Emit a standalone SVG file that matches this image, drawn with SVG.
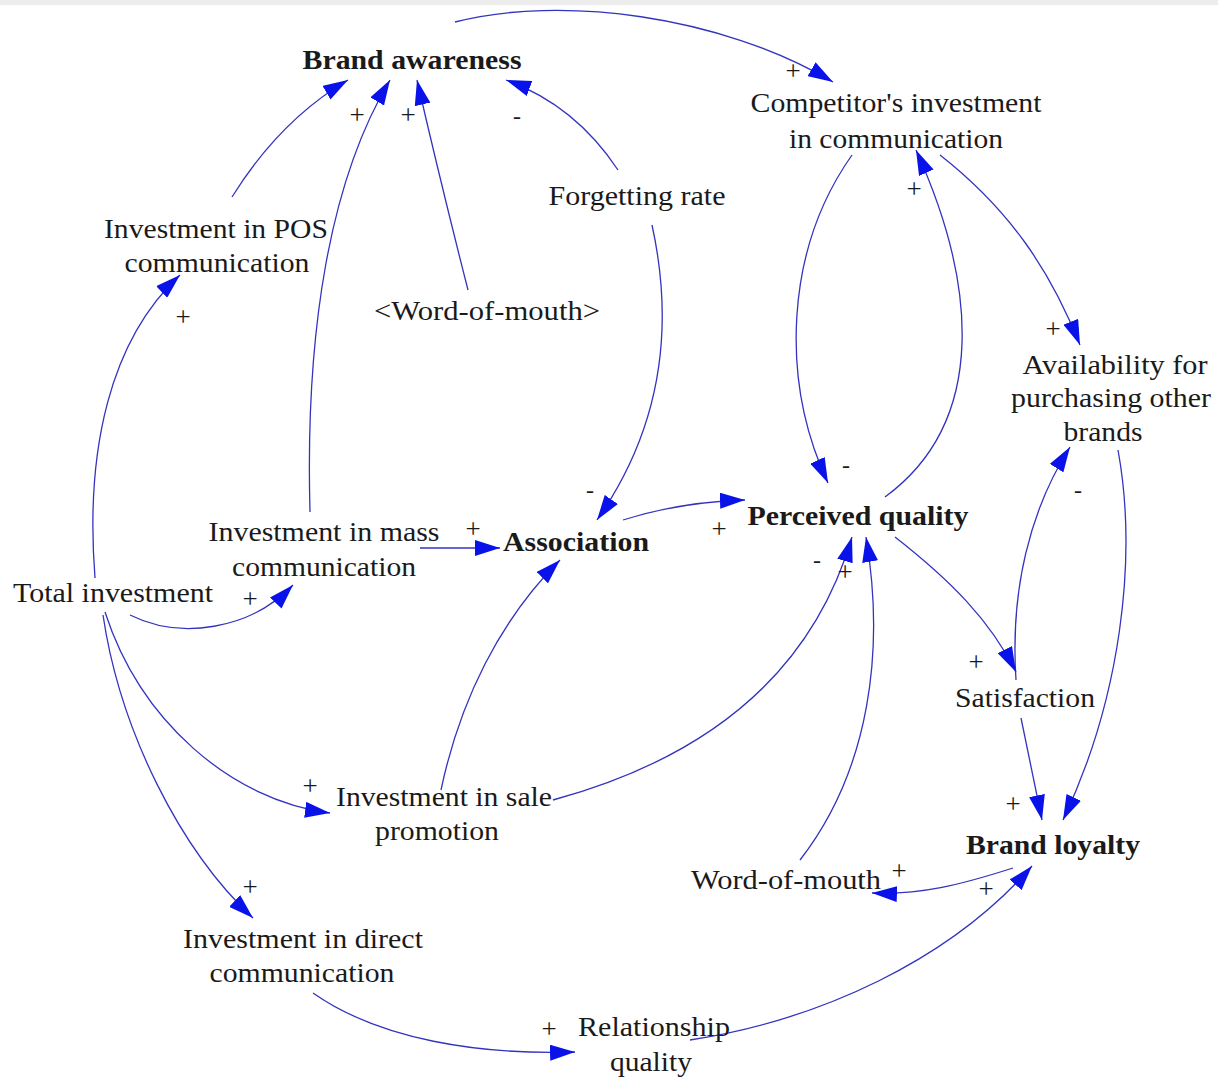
<svg xmlns="http://www.w3.org/2000/svg" width="1218" height="1079" viewBox="0 0 1218 1079">
<style>
.n{font-family:'Liberation Serif','Times New Roman',serif;font-size:27px;fill:#1a1a1a;text-anchor:middle}
.b{font-weight:bold}
.p{font-family:'Liberation Serif','Times New Roman',serif;font-size:27px;fill:#1a1a1a;text-anchor:middle}
.m{font-family:'Liberation Serif','Times New Roman',serif;font-size:24px;fill:#1a1a1a;text-anchor:middle}
.c{fill:none;stroke:#3333c0;stroke-width:1.3;marker-end:url(#ah)}
</style>
<defs>
<marker id="ah" markerUnits="userSpaceOnUse" markerWidth="26" markerHeight="16" refX="25" refY="8" orient="auto">
<path d="M0,0 L25,8 L0,16 z" fill="#0a12ea"/>
</marker>
</defs>
<rect x="0" y="0" width="1218" height="1079" fill="#ffffff"/>
<rect x="0" y="0" width="1218" height="5" fill="#ededed"/>
<g id="connectors">
<path class="c" d="M455,22 C560,-5 720,15 833,82"/>
<path class="c" d="M232,197 Q280,120 348,80"/>
<path class="c" d="M310,512 C305,330 330,180 390,80"/>
<path class="c" d="M468,290 Q440,180 417,80"/>
<path class="c" d="M618,170 Q575,105 506,80"/>
<path class="c" d="M652,225 C675,330 660,430 597,520"/>
<path class="c" d="M852,155 C785,250 780,380 828,483"/>
<path class="c" d="M885,497 C990,420 975,280 916,150"/>
<path class="c" d="M940,155 C1010,210 1050,270 1080,345"/>
<path class="c" d="M1118,450 C1138,560 1120,700 1063,820"/>
<path class="c" d="M1016,680 C1010,590 1030,510 1070,447"/>
<path class="c" d="M895,537 C950,580 990,620 1016,672"/>
<path class="c" d="M1021,718 L1042,820"/>
<path class="c" d="M1013,868 C960,885 920,895 872,893"/>
<path class="c" d="M800,860 C870,770 885,650 866,537"/>
<path class="c" d="M553,800 C700,760 810,680 852,537"/>
<path class="c" d="M623,520 Q680,502 745,500"/>
<path class="c" d="M420,548 L500,548"/>
<path class="c" d="M130,615 C180,640 250,630 293,585"/>
<path class="c" d="M95,578 C85,450 110,340 180,275"/>
<path class="c" d="M105,612 C140,720 230,800 330,813"/>
<path class="c" d="M103,615 C120,730 180,850 253,918"/>
<path class="c" d="M441,790 C460,700 500,620 560,560"/>
<path class="c" d="M313,993 C380,1040 480,1055 575,1052"/>
<path class="c" d="M690,1040 C820,1020 950,960 1032,866"/>
</g>
<g id="polarities">
<text class="p" x="793" y="80">+</text>
<text class="p" x="357" y="124">+</text>
<text class="p" x="408" y="124">+</text>
<text class="m" x="517" y="124">-</text>
<text class="m" x="590" y="498">-</text>
<text class="m" x="846" y="473">-</text>
<text class="p" x="914" y="198">+</text>
<text class="p" x="1053" y="338">+</text>
<text class="m" x="1078" y="498">-</text>
<text class="p" x="976" y="671">+</text>
<text class="p" x="1013" y="813">+</text>
<text class="p" x="899" y="880">+</text>
<text class="p" x="986" y="898">+</text>
<text class="m" x="817" y="568">-</text>
<text class="p" x="845" y="581">+</text>
<text class="p" x="719" y="538">+</text>
<text class="p" x="473" y="538">+</text>
<text class="p" x="250" y="608">+</text>
<text class="p" x="183" y="326">+</text>
<text class="p" x="310" y="795">+</text>
<text class="p" x="250" y="896">+</text>
<text class="p" x="549" y="1038">+</text>
</g>
<g id="brand-awareness"><text class="n b" x="412" y="69" textLength="219" lengthAdjust="spacingAndGlyphs">Brand awareness</text></g>
<g id="competitor"><text class="n" x="896" y="112" textLength="291" lengthAdjust="spacingAndGlyphs">Competitor's investment</text><text class="n" x="896" y="148" textLength="214" lengthAdjust="spacingAndGlyphs">in communication</text></g>
<g id="forgetting-rate"><text class="n" x="637" y="205" textLength="177" lengthAdjust="spacingAndGlyphs">Forgetting rate</text></g>
<g id="pos"><text class="n" x="216" y="238" textLength="224" lengthAdjust="spacingAndGlyphs">Investment in POS</text><text class="n" x="217" y="272" textLength="185" lengthAdjust="spacingAndGlyphs">communication</text></g>
<g id="wom-ref"><text class="n" x="487" y="320" textLength="226" lengthAdjust="spacingAndGlyphs">&lt;Word-of-mouth&gt;</text></g>
<g id="availability"><text class="n" x="1115" y="374" textLength="185" lengthAdjust="spacingAndGlyphs">Availability for</text><text class="n" x="1111" y="407" textLength="200" lengthAdjust="spacingAndGlyphs">purchasing other</text><text class="n" x="1103" y="441" textLength="79" lengthAdjust="spacingAndGlyphs">brands</text></g>
<g id="mass"><text class="n" x="324" y="541" textLength="231" lengthAdjust="spacingAndGlyphs">Investment in mass</text><text class="n" x="324" y="576" textLength="184" lengthAdjust="spacingAndGlyphs">communication</text></g>
<g id="association"><text class="n b" x="576" y="551" textLength="146" lengthAdjust="spacingAndGlyphs">Association</text></g>
<g id="perceived-quality"><text class="n b" x="858" y="525" textLength="221" lengthAdjust="spacingAndGlyphs">Perceived quality</text></g>
<g id="total-investment"><text class="n" x="113" y="602" textLength="200" lengthAdjust="spacingAndGlyphs">Total investment</text></g>
<g id="satisfaction"><text class="n" x="1025" y="707" textLength="140" lengthAdjust="spacingAndGlyphs">Satisfaction</text></g>
<g id="sale"><text class="n" x="444" y="806" textLength="216" lengthAdjust="spacingAndGlyphs">Investment in sale</text><text class="n" x="437" y="840" textLength="124" lengthAdjust="spacingAndGlyphs">promotion</text></g>
<g id="brand-loyalty"><text class="n b" x="1053" y="854" textLength="174" lengthAdjust="spacingAndGlyphs">Brand loyalty</text></g>
<g id="wom"><text class="n" x="786" y="889" textLength="190" lengthAdjust="spacingAndGlyphs">Word-of-mouth</text></g>
<g id="direct"><text class="n" x="303" y="948" textLength="240" lengthAdjust="spacingAndGlyphs">Investment in direct</text><text class="n" x="302" y="982" textLength="185" lengthAdjust="spacingAndGlyphs">communication</text></g>
<g id="relationship"><text class="n" x="654" y="1036" textLength="152" lengthAdjust="spacingAndGlyphs">Relationship</text><text class="n" x="651" y="1071" textLength="82" lengthAdjust="spacingAndGlyphs">quality</text></g>
</svg>
